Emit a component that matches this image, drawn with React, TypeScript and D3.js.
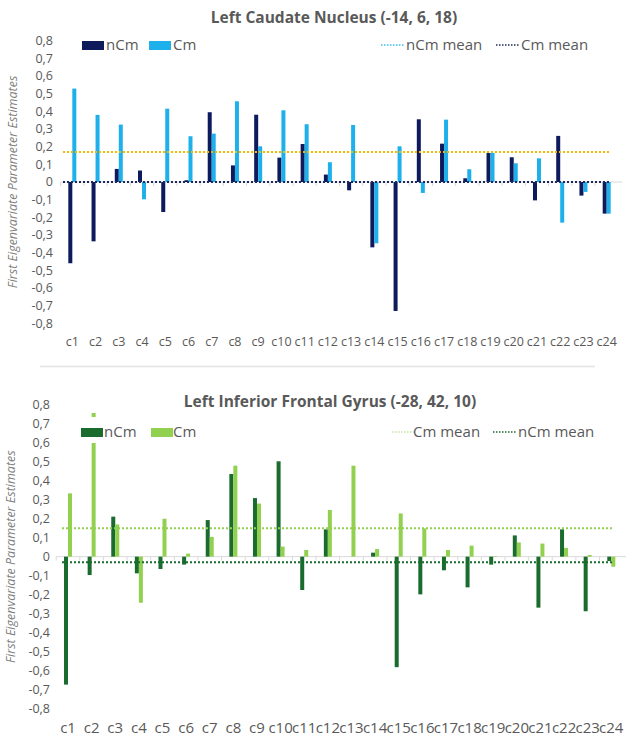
import React from "react";
import * as d3 from "d3";

const categories = ["c1","c2","c3","c4","c5","c6","c7","c8","c9","c10","c11","c12","c13","c14","c15","c16","c17","c18","c19","c20","c21","c22","c23","c24"];

const yTicks = [0.8,0.7,0.6,0.5,0.4,0.3,0.2,0.1,0,-0.1,-0.2,-0.3,-0.4,-0.5,-0.6,-0.7,-0.8];

// Left Caudate Nucleus
const caudateNCm = [-0.46,-0.336,0.074,0.065,-0.17,0.01,0.395,0.094,0.381,0.138,0.215,0.042,-0.047,-0.37,-0.73,0.355,0.217,0.021,0.164,0.14,-0.104,0.261,-0.077,-0.179];
const caudateCm = [0.529,0.38,0.325,-0.098,0.415,0.259,0.274,0.457,0.202,0.406,0.327,0.112,0.323,-0.347,0.202,-0.062,0.353,0.072,0.165,0.106,0.134,-0.23,-0.056,-0.179];
const caudateMeanLines = [0.17, 0.0];

// Left Inferior Frontal Gyrus
const ifgNCm = [-0.675,-0.097,0.211,-0.088,-0.065,-0.042,0.193,0.436,0.309,0.503,-0.176,0.144,0.0,0.021,-0.583,-0.199,-0.072,-0.162,-0.042,0.112,-0.269,0.144,-0.288,-0.023];
const ifgCm = [0.334,0.758,0.17,-0.243,0.2,0.016,0.104,0.48,0.28,0.053,0.035,0.246,0.48,0.04,0.228,0.149,0.035,0.058,0.003,0.075,0.069,0.046,0.009,-0.053];
const ifgMeanLines = [0.15, -0.03];

const FONT = "'Open Sans', sans-serif";
const GRAY = "#595959";

type ChartProps = {
  title: string;
  titleX: number;
  titleY: number;
  nCm: number[];
  cm: number[];
  means: number[];
  meanColors: string[];
  nCmColor: string;
  cmColor: string;
  yTop: number;
  yBottom: number;
  xLeft: number;
  xRight: number;
  tickRight: number;
  xLabelY: number;
  xLabelSize: number;
  axisTitleX: number;
  legendY: number;
  legendLeft: { sw: number; tx: number }[];
  legendRight: { mx: number; tx: number; color: string; label: string }[];
  lineX: [number, number];
  legendBg?: { x: number; y: number; w: number; h: number };
};

function Chart(p: ChartProps) {
  const x = d3.scaleBand<string>().domain(categories).range([p.xLeft, p.xRight]).paddingInner(0).paddingOuter(0);
  const sub = d3.scaleBand<string>().domain(["nCm", "Cm"]).range([0, 8]).padding(0);
  const y = d3.scaleLinear().domain([-0.8, 0.8]).range([p.yBottom, p.yTop]);
  const off = (x.bandwidth() - 8) / 2;
  const fmt = (v: number) => (Math.abs(v) < 1e-9 ? "0" : v.toFixed(1).replace(".", ","));
  const bar = (vals: number[], key: string, color: string) =>
    vals.map((v, i) => {
      const x0 = (x(categories[i]) as number) + off + (sub(key) as number);
      const y0 = Math.min(y(v), y(0));
      const h = Math.abs(y(v) - y(0));
      return <rect key={key + i} x={x0} y={y0} width={sub.bandwidth()} height={h} fill={color} />;
    });
  const midY = (p.yTop + p.yBottom) / 2;
  return (
    <g fontFamily={FONT}>
      <text x={p.titleX} y={p.titleY} textAnchor="middle" fontWeight="bold" fontSize={15.5} fill={GRAY}>{p.title}</text>
      <text transform={`translate(${p.axisTitleX},${midY}) rotate(-90)`} textAnchor="middle" fontStyle="italic" fontSize={12.5} fill="#7f7f7f">First Eigenvariate Parameter Estimates</text>
      {yTicks.map((t) => (
        <text key={t} x={p.tickRight} y={y(t)} dy="0.35em" textAnchor="end" fontSize={12.5} fill={GRAY}>{fmt(t)}</text>
      ))}
      <line x1={p.xLeft} x2={p.xRight + 4} y1={y(0)} y2={y(0)} stroke="#d9d9d9" strokeWidth={1} />
      {categories.map((c) => (
        <line key={"t" + c} x1={(x(c) as number)} x2={(x(c) as number)} y1={y(0)} y2={y(0) + 4} stroke="#d9d9d9" />
      ))}
      {bar(p.nCm, "nCm", p.nCmColor)}
      {bar(p.cm, "Cm", p.cmColor)}
      {p.means.map((m, i) => (
        <line key={"m" + i} x1={p.lineX[0]} x2={p.lineX[1]} y1={y(m)} y2={y(m)} stroke={p.meanColors[i]} strokeWidth={2} strokeDasharray="2,2" />
      ))}
      {categories.map((c) => (
        <text key={"l" + c} x={(x(c) as number) + x.bandwidth() / 2} y={p.xLabelY} textAnchor="middle" fontSize={p.xLabelSize} fill={GRAY}>{c}</text>
      ))}
      {p.legendBg && <rect x={p.legendBg.x} y={p.legendBg.y} width={p.legendBg.w} height={p.legendBg.h} fill="#ffffff" />}
      <rect x={p.legendLeft[0].sw} y={p.legendY - 9} width={22} height={9} fill={p.nCmColor} />
      <text x={p.legendLeft[0].tx} y={p.legendY} fontSize={15} fill={GRAY}>nCm</text>
      <rect x={p.legendLeft[1].sw} y={p.legendY - 9} width={22} height={9} fill={p.cmColor} />
      <text x={p.legendLeft[1].tx} y={p.legendY} fontSize={15} fill={GRAY}>Cm</text>
      {p.legendRight.map((l) => (
        <g key={l.label}>
          <line x1={l.mx} x2={l.mx + 24} y1={p.legendY - 5} y2={p.legendY - 5} stroke={l.color} strokeWidth={1.5} strokeDasharray="1.5,1.5" />
          <text x={l.tx} y={p.legendY} fontSize={15} fill={GRAY}>{l.label}</text>
        </g>
      ))}
    </g>
  );
}

export default function App() {
  return (
    <svg width={626} height={739} style={{ position: "absolute", left: 0, top: 0, background: "#fff" }}>
      <rect width={626} height={739} fill="#fff" />
      <Chart
        title="Left Caudate Nucleus (-14, 6, 18)"
        titleX={334} titleY={23}
        nCm={caudateNCm} cm={caudateCm}
        means={caudateMeanLines} meanColors={["#f5b800", "#1f2a5c"]}
        nCmColor="#0d1a5c" cmColor="#1eb0ea"
        yTop={40.7} yBottom={323.3}
        xLeft={60.7} xRight={618.3}
        tickRight={53} xLabelY={346} xLabelSize={12.5}
        axisTitleX={17}
        legendY={50}
        legendLeft={[{ sw: 82, tx: 106 }, { sw: 149, tx: 173 }]}
        legendRight={[
          { mx: 381, tx: 406, color: "#3cc0f0", label: "nCm mean" },
          { mx: 496, tx: 521, color: "#1f2a5c", label: "Cm mean" },
        ]}
        lineX={[63, 609]}
      />
      <line x1={40} x2={595} y1={366.5} y2={366.5} stroke="#e3e3e3" strokeWidth={1.5} />
      <Chart
        title="Left Inferior Frontal Gyrus (-28, 42, 10)"
        titleX={330} titleY={407}
        nCm={ifgNCm} cm={ifgCm}
        means={ifgMeanLines} meanColors={["#92d050", "#1a6b2e"]}
        nCmColor="#1a6b2e" cmColor="#92d050"
        yTop={405} yBottom={708.3}
        xLeft={56.2} xRight={623.1}
        tickRight={50} xLabelY={733} xLabelSize={15}
        axisTitleX={15}
        legendY={437}
        legendLeft={[{ sw: 81, tx: 104 }, { sw: 151, tx: 173 }]}
        legendRight={[
          { mx: 392, tx: 413, color: "#c6e6a0", label: "Cm mean" },
          { mx: 493, tx: 518, color: "#1a6b2e", label: "nCm mean" },
        ]}
        lineX={[62, 612]}
        legendBg={{ x: 60, y: 417, w: 150, h: 26 }}
      />
    </svg>
  );
}
